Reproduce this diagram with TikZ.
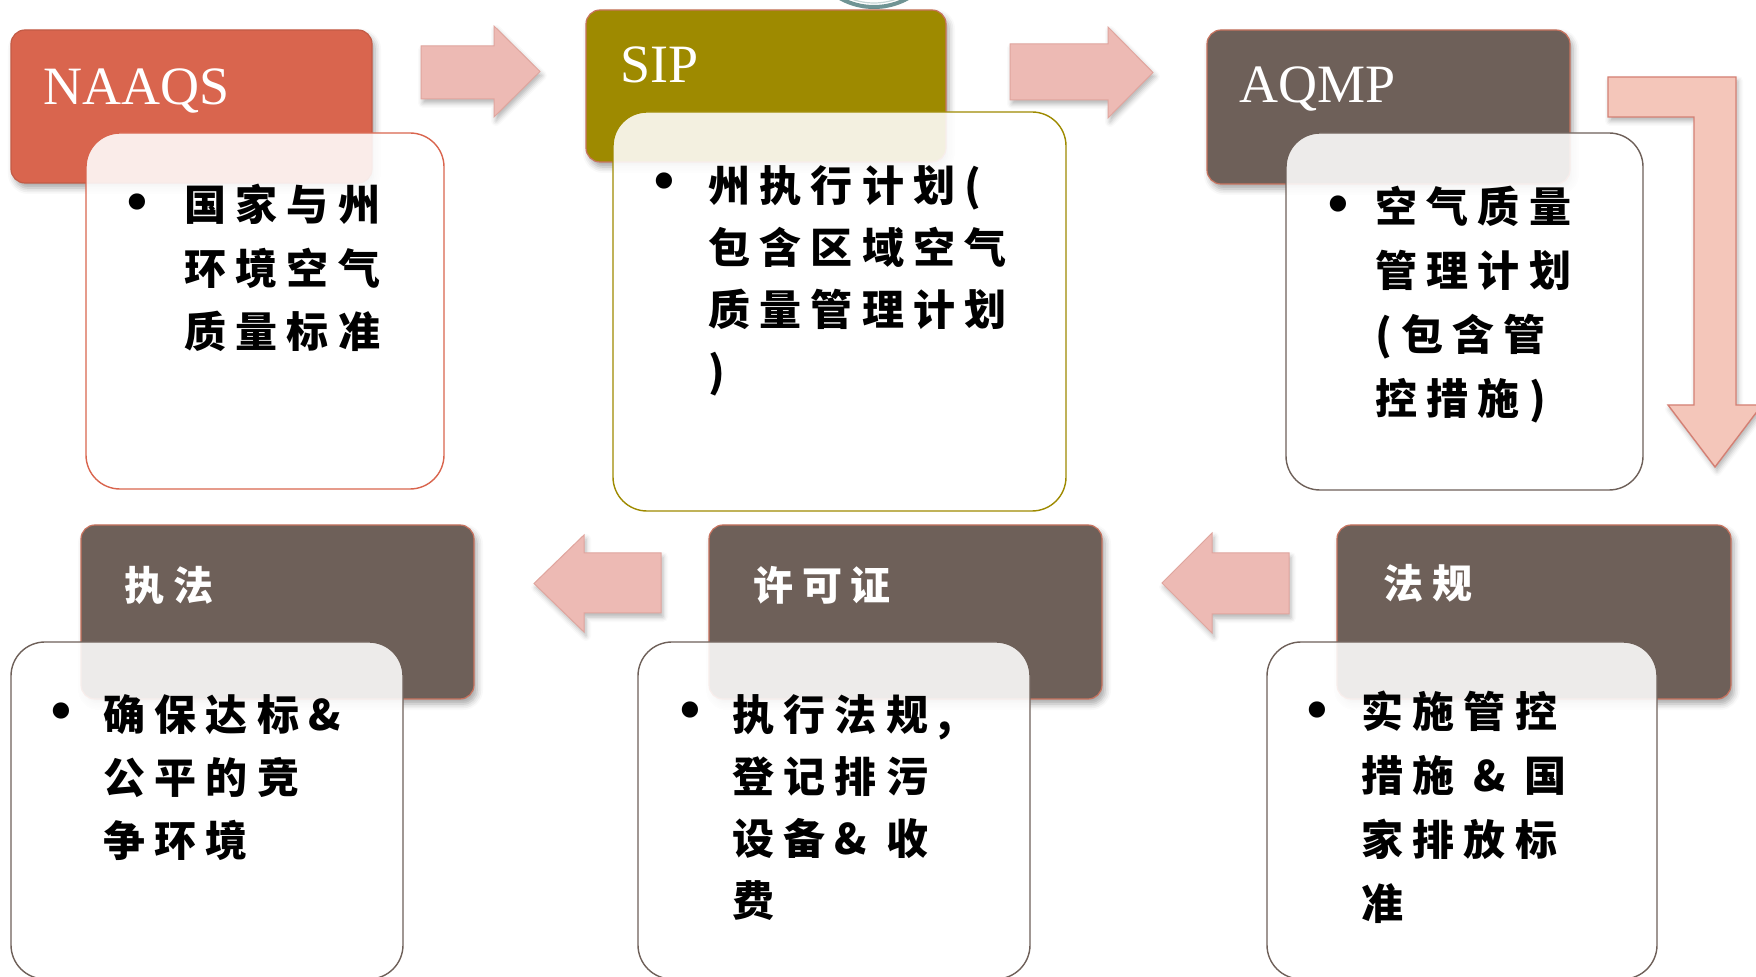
\documentclass[tikz,border=0pt]{standalone}
\usepackage{fontspec}
\setmainfont{Liberation Serif}
\newfontfamily\cjk{Noto Sans CJK SC}[LetterSpace=22]
\usetikzlibrary{shadows.blur}
\definecolor{coral}{RGB}{217,101,78}
\definecolor{olive}{RGB}{158,138,0}
\definecolor{brownbox}{RGB}{110,96,89}
\definecolor{hdredge}{RGB}{200,115,95}
\definecolor{arrowpink}{RGB}{237,186,180}
\definecolor{arrowedge}{RGB}{224,165,158}
\definecolor{bentpink}{RGB}{244,198,186}
\definecolor{bentedge}{RGB}{212,128,116}
\definecolor{ringteal}{RGB}{111,148,148}
\begin{document}
\begin{tikzpicture}[x=0.5pt,y=-0.5pt,
  hdrbox/.style={rounded corners=7pt, inner sep=0pt, line width=0.6pt,
    blur shadow={shadow xshift=1.5pt, shadow yshift=-2.5pt, shadow blur radius=3pt, shadow opacity=35}},
  contentbox/.style={rounded corners=17pt, inner sep=0pt, line width=0.7pt, fill=white, fill opacity=0.88},
  blockarrow/.style={fill=arrowpink, draw=arrowedge, line width=0.5pt,
    blur shadow={shadow xshift=1pt, shadow yshift=-2pt, shadow blur radius=2.5pt, shadow opacity=30}},
  latinhdr/.style={text=white, inner sep=0pt, anchor=base west, font=\fontsize{27}{27}\selectfont},
  cjkhdr/.style={text=white, inner sep=0pt, anchor=west, font=\cjk\bfseries\fontsize{20}{20}\selectfont},
  bodytext/.style={inner sep=0pt, anchor=north west, align=left, text=black},
  bulletmark/.style={inner sep=0pt, anchor=center, yshift=-3pt, font=\fontsize{34}{34}\selectfont}
]
\useasboundingbox (0,0) rectangle (1756,977);
\clip (0,0) rectangle (1756,977);

% partial ring at top
\draw[ringteal, line width=2pt] (874,-63) circle (70);
\draw[ringteal!40, line width=0.6pt] (874,-63) circle (66);

% block arrows
\draw[blockarrow] (421,46) -- (494,46) -- (494,26) -- (540,71.5) -- (494,117) -- (494,99) -- (421,99) -- cycle;
\draw[blockarrow] (1010,44) -- (1108,44) -- (1108,27) -- (1153,72.5) -- (1108,118) -- (1108,100) -- (1010,100) -- cycle;
\draw[blockarrow] (661,553) -- (584,553) -- (584,535) -- (534,583.5) -- (584,632) -- (584,613) -- (661,613) -- cycle;
\draw[blockarrow] (1289,553) -- (1212,553) -- (1212,533) -- (1162,583) -- (1212,633) -- (1212,614) -- (1289,614) -- cycle;
\draw[blockarrow, fill=bentpink, draw=bentedge, line width=0.7pt]
  (1608,77) -- (1736,77) -- (1736,405) -- (1762,405) -- (1715,467) -- (1668,405) -- (1694,405) -- (1694,117) -- (1608,117) -- cycle;

% header boxes
\node[hdrbox, fill=coral, draw=coral!90!black, minimum width=180.5pt, minimum height=76.5pt] (h1) at (191.5,106.5) {};
\node[hdrbox, fill=olive, draw=hdredge, minimum width=180pt, minimum height=76pt] (h2) at (766,86) {};
\node[hdrbox, fill=brownbox, draw=hdredge, minimum width=181.5pt, minimum height=77pt] (h3) at (1388.5,107) {};
\node[hdrbox, fill=brownbox, draw=hdredge, minimum width=196.5pt, minimum height=87pt] (h4) at (277.5,612) {};
\node[hdrbox, fill=brownbox, draw=hdredge, minimum width=196.5pt, minimum height=87pt] (h5) at (905.5,612) {};
\node[hdrbox, fill=brownbox, draw=hdredge, minimum width=197pt, minimum height=87pt] (h6) at (1534,612) {};

% header texts
\node[latinhdr] (t1) at (43,105) {NAAQS};
\node[latinhdr] (t2) at (620,83) {SIP};
\node[latinhdr] (t3) at (1239,103) {AQMP};
\node[cjkhdr] (t4) at (124,585) {执法};
\node[cjkhdr] (t5) at (753,585) {许可证};
\node[cjkhdr] (t6) at (1383,583) {法规};

% content boxes
\node[contentbox, draw=coral, minimum width=179pt, minimum height=178pt] (c1) at (265,311) {};
\node[contentbox, draw=olive, minimum width=226.5pt, minimum height=199.5pt] (c2) at (839.5,311.5) {};
\node[contentbox, draw=brownbox, minimum width=178.5pt, minimum height=178.5pt] (c3) at (1464.5,311.5) {};
\node[contentbox, draw=brownbox, minimum width=196pt, minimum height=168.5pt] (c4) at (207,810.5) {};
\node[contentbox, draw=brownbox, minimum width=196pt, minimum height=168.5pt] (c5) at (834,810.5) {};
\node[contentbox, draw=brownbox, minimum width=195pt, minimum height=168.5pt] (c6) at (1462,810.5) {};

% bullets
\node[bulletmark] (b1) at (137,203) {•};
\node[bulletmark] (b2) at (664,182) {•};
\node[bulletmark] (b3) at (1338,205) {•};
\node[bulletmark] (b4) at (61,712) {•};
\node[bulletmark] (b5) at (690,711) {•};
\node[bulletmark] (b6) at (1317,711) {•};

% body texts
\node[bodytext, font=\cjk\bfseries\fontsize{21}{31.75}\selectfont] (x1) at (184,184) {国家与州\\环境空气\\质量标准};
\node[bodytext, font=\cjk\bfseries\fontsize{21}{31}\selectfont] (x2) at (708,165) {州执行计划(\\包含区域空气\\质量管理计划\\)};
\node[bodytext, font=\cjk\bfseries\fontsize{21}{32}\selectfont] (x3) at (1375,186) {空气质量\\管理计划\\(包含管\\控措施)};
\node[bodytext, font=\cjk\bfseries\fontsize{21}{31.5}\selectfont] (x4) at (103,694) {确保达标\&\\公平的竞\\争环境};
\node[bodytext, font=\cjk\bfseries\fontsize{21}{31}\selectfont] (x5) at (732,694) {执行法规,\\登记排污\\设备\& 收\\费};
\node[bodytext, font=\cjk\bfseries\fontsize{21}{32}\selectfont] (x6) at (1361,691) {实施管控\\措施 \& 国\\家排放标\\准};
\end{tikzpicture}
\end{document}
